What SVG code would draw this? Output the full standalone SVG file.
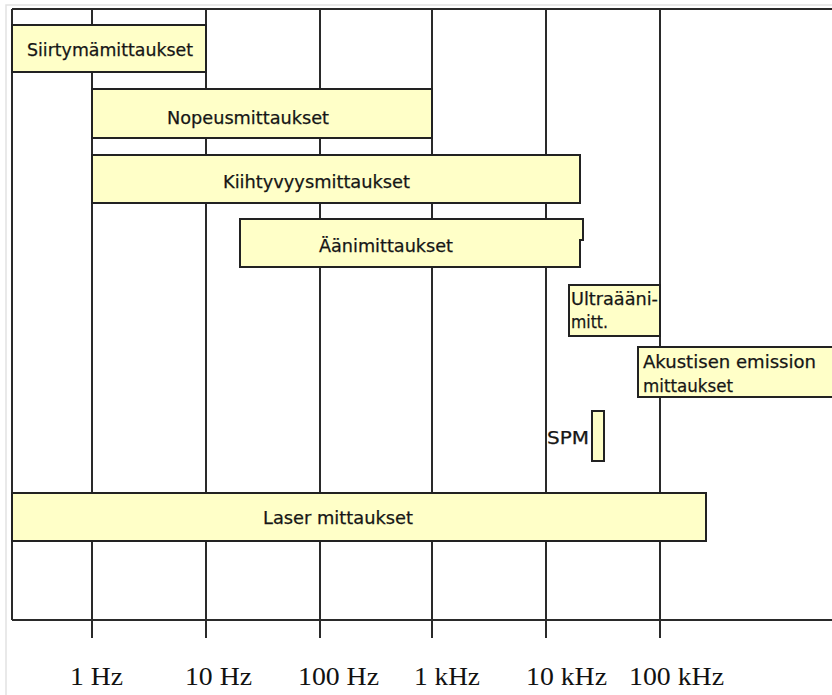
<svg xmlns="http://www.w3.org/2000/svg" width="832" height="695" viewBox="0 0 832 695">
<style>
.grid{stroke:#2a2a2a;stroke-width:2;fill:none}
.box{fill:#ffffc8;stroke:#222;stroke-width:2}
.lbl{font-family:"DejaVu Sans","Liberation Sans",sans-serif;font-size:17.5px;fill:#161616;stroke:#161616;stroke-width:0.25}
.ax{font-family:"Liberation Serif","Times New Roman",serif;font-size:25px;fill:#111}
</style>
<rect x="0" y="0" width="832" height="695" fill="#fff"/>
<path d="M6,695 V5 H832" stroke="#e2e2e2" stroke-width="1.5" fill="none"/>
<g id="grid" class="grid">
<path d="M12,9 H832 M12,620 H832 M12,9 V620"/>
<path d="M92,9 V638 M206,9 V638 M320,9 V638 M432,9 V638 M546,9 V638 M660,9 V638"/>
</g>
<g id="siirtyma"><rect class="box" x="12" y="25" width="194" height="47"/><text class="lbl" x="27" y="56" textLength="166" lengthAdjust="spacingAndGlyphs">Siirtymämittaukset</text></g>
<g id="nopeus"><rect class="box" x="92" y="89" width="340" height="49"/><text class="lbl" x="167" y="124" textLength="162" lengthAdjust="spacingAndGlyphs">Nopeusmittaukset</text></g>
<g id="kiihtyvyys"><rect class="box" x="92" y="155" width="488" height="48"/><text class="lbl" x="223" y="188" textLength="187" lengthAdjust="spacingAndGlyphs">Kiihtyvyysmittaukset</text></g>
<g id="aani"><path class="box" d="M240,219 H583 V240 H580 V267 H240 Z"/><text class="lbl" x="319" y="252" textLength="134" lengthAdjust="spacingAndGlyphs">Äänimittaukset</text></g>
<g id="ultraaani"><rect class="box" x="569" y="285" width="91" height="51"/><text class="lbl" x="571" y="305" textLength="87" lengthAdjust="spacingAndGlyphs">Ultraääni-</text><text class="lbl" x="571" y="328" textLength="37" lengthAdjust="spacingAndGlyphs">mitt.</text></g>
<g id="akustinen"><rect class="box" x="638" y="347" width="200" height="50"/><text class="lbl" x="643" y="368" textLength="173" lengthAdjust="spacingAndGlyphs">Akustisen emission</text><text class="lbl" x="643" y="392" textLength="90" lengthAdjust="spacingAndGlyphs">mittaukset</text></g>
<g id="spm"><rect class="box" x="592" y="411" width="12" height="50"/><text class="lbl" x="547" y="444" textLength="42" lengthAdjust="spacingAndGlyphs">SPM</text></g>
<g id="laser"><rect class="box" x="12" y="493" width="694" height="48"/><text class="lbl" x="263" y="524" textLength="150" lengthAdjust="spacingAndGlyphs">Laser mittaukset</text></g>
<g id="axis-labels">
<text class="ax" x="70" y="685" textLength="53" lengthAdjust="spacingAndGlyphs">1 Hz</text>
<text class="ax" x="185" y="685" textLength="67" lengthAdjust="spacingAndGlyphs">10 Hz</text>
<text class="ax" x="298" y="685" textLength="81" lengthAdjust="spacingAndGlyphs">100 Hz</text>
<text class="ax" x="414" y="685" textLength="66" lengthAdjust="spacingAndGlyphs">1 kHz</text>
<text class="ax" x="526" y="685" textLength="81" lengthAdjust="spacingAndGlyphs">10 kHz</text>
<text class="ax" x="629" y="685" textLength="95" lengthAdjust="spacingAndGlyphs">100 kHz</text>
</g>
</svg>
